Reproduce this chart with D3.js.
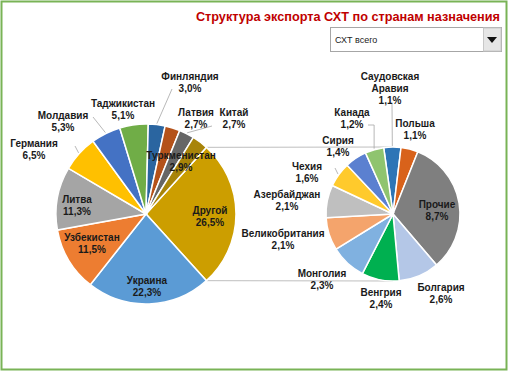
<!DOCTYPE html>
<html>
<head>
<meta charset="utf-8">
<script src="https://cdn.jsdelivr.net/npm/d3@7"></script>
<style>
  body { margin: 0; background: #fff; }
  svg { display: block; font-family: "Liberation Sans", Arial, sans-serif; }
</style>
</head>
<body>
<svg id="chart" width="508" height="371"></svg>
<script>
// left pie (main), "Другой" is the slice that gets split into the right pie
var leftNames = ["Другой", "Украина", "Узбекистан", "Литва", "Германия", "Молдавия",
  "Таджикистан", "Финляндия", "Латвия", "Китай", "Туркменистан"];
var leftValues = [26.5, 22.3, 11.5, 11.3, 6.5, 5.3, 5.1, 3.0, 2.7, 2.7, 2.9];
var leftColors = ["#cc9e00", "#5b9bd5", "#ed7d31", "#a5a5a5", "#ffc000", "#4472c4",
  "#70ad47", "#2a65a0", "#b4521a", "#666666", "#a88409"];

// right pie (breakdown of "Другой")
var rightNames = ["Саудовская Аравия", "Польша", "Прочие", "Болгария", "Венгрия", "Монголия",
  "Великобритания", "Азербайджан", "Чехия", "Сирия", "Канада"];
var rightValues = [1.1, 1.1, 8.7, 2.6, 2.4, 2.3, 2.1, 2.1, 1.6, 1.4, 1.2];
var rightColors = ["#2e75b6", "#d8621b", "#7f7f7f", "#b4c7e7", "#00b050", "#80b1e0",
  "#f4a46c", "#bfbfbf", "#ffca2c", "#5b80d0", "#8fc46f"];

// label layout (text anchor centre, first line baseline) + leader start
var labelAt = {
  "Финляндия": {x: 190, y: 80, lead: [172, 89]},
  "Латвия": {x: 196, y: 116},
  "Китай": {x: 234, y: 116, lead: [212, 126]},
  "Туркменистан": {x: 181, y: 159},
  "Другой": {x: 210, y: 214},
  "Украина": {x: 147, y: 284},
  "Узбекистан": {x: 92, y: 241},
  "Литва": {x: 77, y: 203},
  "Германия": {x: 34, y: 147, lead: [75, 146]},
  "Молдавия": {x: 63, y: 119, lead: [93, 117]},
  "Таджикистан": {x: 123, y: 107},
  "Саудовская Аравия": {x: 390, y: 80, lead: [392, 104]},
  "Польша": {x: 415, y: 127},
  "Канада": {x: 352, y: 116, lead: [368, 125], elbow: true},
  "Сирия": {x: 338, y: 144},
  "Чехия": {x: 307, y: 170, lead: [335, 168]},
  "Азербайджан": {x: 287, y: 198},
  "Великобритания": {x: 283, y: 237},
  "Монголия": {x: 322, y: 277},
  "Венгрия": {x: 381, y: 296},
  "Болгария": {x: 441, y: 291},
  "Прочие": {x: 437, y: 208}
};

var svg = d3.select("#chart");
var W = 508, H = 371;

svg.append("rect").attr("x", 1.5).attr("y", 1.5).attr("width", W - 3).attr("height", H - 3)
  .attr("fill", "#fff").attr("stroke", "#79b356").attr("stroke-width", 2);

svg.append("text").attr("x", 500).attr("y", 21).attr("text-anchor", "end")
  .attr("font-size", 12.7).attr("font-weight", "bold").attr("fill", "#c00000")
  .text("Структура экспорта СХТ по странам назначения");

// dropdown
var dd = svg.append("g");
dd.append("rect").attr("x", 330.5).attr("y", 27.5).attr("width", 171).attr("height", 24)
  .attr("fill", "#fff").attr("stroke", "#a6a6a6");
dd.append("rect").attr("x", 483.5).attr("y", 28).attr("width", 17.5).attr("height", 23)
  .attr("fill", "#e6e6e6").attr("stroke", "#c8c8c8");
dd.append("path").attr("d", "M487,37 L497,37 L492,43 Z").attr("fill", "#111");
dd.append("text").attr("x", 335).attr("y", 43).attr("font-size", 9).attr("fill", "#222")
  .text("СХТ всего");

var cx1 = 146, cy1 = 214, R1 = 90;
var cx2 = 393, cy2 = 214, R2 = 67;
var toRad = Math.PI / 180;

var leftTotal = d3.sum(leftValues);
var a0 = Math.PI / 2 - leftValues[0] / leftTotal * Math.PI;
var leftArcs = d3.pie().sort(null).startAngle(a0).endAngle(a0 + 2 * Math.PI)
  .value(function(d) { return d.v; })(leftNames.map(function(n, i) {
    return {name: n, v: leftValues[i], color: leftColors[i]};
  }));

var b0 = -8 * toRad;
var rightArcs = d3.pie().sort(null).startAngle(b0).endAngle(b0 + 2 * Math.PI)
  .value(function(d) { return d.v; })(rightNames.map(function(n, i) {
    return {name: n, v: rightValues[i], color: rightColors[i]};
  }));

function polar(cx, cy, r, a) { return [cx + r * Math.sin(a), cy - r * Math.cos(a)]; }

// series lines between the two pies
var other = leftArcs[0];
[[other.startAngle, -R2], [other.endAngle, R2]].forEach(function(p) {
  var s = polar(cx1, cy1, R1, p[0]);
  svg.append("line").attr("x1", s[0]).attr("y1", s[1]).attr("x2", cx2).attr("y2", cy2 + p[1])
    .attr("stroke", "#bfbfbf").attr("stroke-width", 1);
});

function drawPie(arcs, cx, cy, r) {
  var arc = d3.arc().innerRadius(0).outerRadius(r);
  var g = svg.append("g").attr("transform", "translate(" + cx + "," + cy + ")");
  g.selectAll("path").data(arcs).enter().append("path")
    .attr("d", arc).attr("fill", function(d) { return d.data.color; })
    .attr("stroke", "#fff").attr("stroke-width", 1.5);

  arcs.forEach(function(d) {
    var L = labelAt[d.data.name];
    if (!L) return;
    if (L.lead) {
      var mid = (d.startAngle + d.endAngle) / 2;
      var e = polar(cx, cy, r + 1, mid);
      var pts = L.elbow ? [L.lead, [e[0], L.lead[1]], e] : [L.lead, e];
      svg.append("path").attr("d", d3.line()(pts)).attr("fill", "none")
        .attr("stroke", "#a6a6a6").attr("stroke-width", 0.8);
    }
    var lines = d.data.name.split(" ");
    lines.push(d3.format(".1f")(d.data.v).replace(".", ",") + "%");
    var t = svg.append("text").attr("text-anchor", "middle").attr("font-size", 10)
      .attr("font-weight", "bold").attr("fill", "#1a1a1a");
    lines.forEach(function(s, i) {
      t.append("tspan").attr("x", L.x).attr("y", L.y + i * 11.8).text(s);
    });
  });
}

drawPie(leftArcs, cx1, cy1, R1);
drawPie(rightArcs, cx2, cy2, R2);
</script>
</body>
</html>
